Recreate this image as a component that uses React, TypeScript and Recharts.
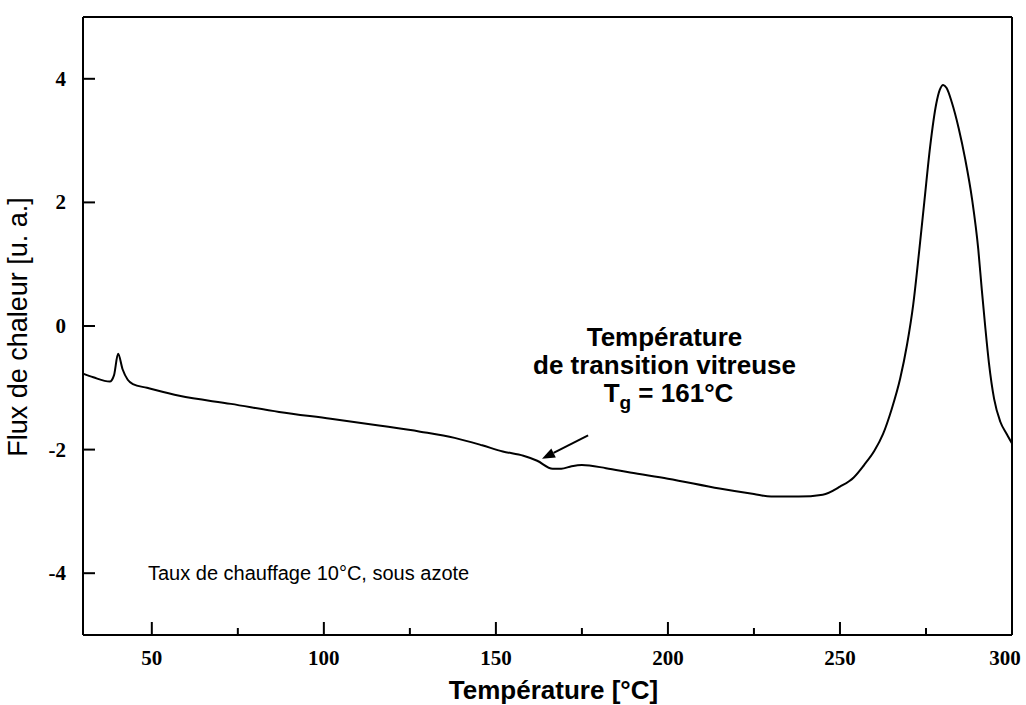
import { LineChart, Line, XAxis, YAxis, ReferenceLine, ReferenceDot } from 'recharts';

// DSC scan, heat flow vs temperature
const temps = [
  30, 33, 37.8, 39, 40.2, 41.5, 43, 44.5, 48.6, 58, 73, 87, 102, 116, 128, 138, 146, 152, 158, 162,
  166.5, 169, 172, 175, 182, 189, 200, 215, 225, 230, 238, 245, 250, 254, 257, 260, 262.5, 265,
  267.5, 269.5, 271.3, 273, 274.5, 276.2, 278, 279, 280, 281, 282.5, 284.5, 286.4, 288.4, 290.2,
  291.2, 292.2, 293.3, 294.8, 296.6, 298.5, 300,
];
const heatFlow = [
  -0.77, -0.83, -0.9, -0.8, -0.45, -0.7, -0.87, -0.94, -1.0, -1.13, -1.26, -1.39, -1.5, -1.61, -1.71,
  -1.81, -1.93, -2.03, -2.1, -2.18, -2.31, -2.31, -2.27, -2.25, -2.3, -2.37, -2.47, -2.63, -2.72,
  -2.76, -2.76, -2.73, -2.6, -2.45, -2.25, -2.02, -1.75, -1.35, -0.85, -0.3, 0.35, 1.2, 2.0, 2.9,
  3.6, 3.82, 3.9, 3.85, 3.62, 3.2, 2.7, 2.05, 1.24, 0.6, 0.0, -0.6, -1.18, -1.55, -1.75, -1.9,
];
const xTicks = [50, 75, 100, 125, 150, 175, 200, 225, 250, 275, 300];
const yTicks = [-4, -2, 0, 2, 4];

// arrow pointing at the glass transition, and anchors for the notes
const arrowFrom = { x: 176.8, y: -1.77 };
const arrowTo = { x: 163.4, y: -2.15 };
const tgNote = ['Température', 'de transition vitreuse'];
const tgNoteAt = { x: 199, y: -0.32 };
const rateNote = 'Taux de chauffage 10°C, sous azote';
const rateNoteAt = { x: 30, y: -4 };

const data = temps.map((t, i) => ({ t, flux: heatFlow[i] }));

const SERIF = '"Liberation Serif", "Times New Roman", serif';
const SANS = '"Liberation Sans", Arial, sans-serif';

function XTick({ x, y, payload }: any) {
  const major = payload.value % 50 === 0;
  // the last label would run past the right edge, nudge it in
  const lx = Math.min(x, 1005);
  return (
    <g>
      <line x1={x} x2={x} y1={y} y2={y - (major ? 13 : 7)} stroke="#000" strokeWidth={2} />
      {major && (
        <text x={lx} y={y + 30} textAnchor="middle" fontFamily={SERIF} fontWeight="bold" fontSize={21} fill="#000">
          {payload.value}
        </text>
      )}
    </g>
  );
}

function YTick({ x, y, payload }: any) {
  return (
    <g>
      <line x1={x} x2={x + 12} y1={y} y2={y} stroke="#000" strokeWidth={2} />
      <text x={x - 17} y={y + 7} textAnchor="end" fontFamily={SERIF} fontWeight="bold" fontSize={21} fill="#000">
        {payload.value}
      </text>
    </g>
  );
}

function Arrow({ x1, y1, x2, y2 }: any) {
  const a = Math.atan2(y2 - y1, x2 - x1);
  const len = 13;
  const w = 5;
  const bx = x2 - len * Math.cos(a);
  const by = y2 - len * Math.sin(a);
  const pts = [
    [x2, y2],
    [bx + w * Math.sin(a), by - w * Math.cos(a)],
    [bx - w * Math.sin(a), by + w * Math.cos(a)],
  ].map((p) => p.join(',')).join(' ');
  return (
    <g>
      <line x1={x1} y1={y1} x2={bx} y2={by} stroke="#000" strokeWidth={2} />
      <polygon points={pts} fill="#000" />
    </g>
  );
}

function TgNote({ cx, cy }: any) {
  const st = { fontFamily: SANS, fontWeight: 'bold' as const, fontSize: 26, fill: '#000' };
  return (
    <g>
      <text x={cx} y={cy} textAnchor="middle" {...st}>{tgNote[0]}</text>
      <text x={cx} y={cy + 28} textAnchor="middle" {...st}>{tgNote[1]}</text>
      <text x={cx + 4} y={cy + 56} textAnchor="middle" {...st}>
        T<tspan dy={7} fontSize={19}>g</tspan><tspan dy={-7}> = 161°C</tspan>
      </text>
    </g>
  );
}

function RateNote({ cx, cy }: any) {
  return (
    <text x={cx + 65} y={cy + 7} fontFamily={SANS} fontSize={20} fill="#000">
      {rateNote}
    </text>
  );
}

export default function App() {
  return (
    <div style={{ position: 'absolute', left: 0, top: 0, width: 1026, height: 705, background: '#fff' }}>
      <LineChart width={1026} height={705} data={data} margin={{ top: 17, right: 14, bottom: 0, left: 0 }}>
        <XAxis
          dataKey="t"
          type="number"
          domain={[30, 300]}
          ticks={xTicks}
          height={70}
          tickSize={0}
          tickMargin={0}
          tickLine={false}
          tick={<XTick />}
          axisLine={{ stroke: '#000', strokeWidth: 2 }}
          label={{
            content: ({ viewBox }: any) => (
              <text x={viewBox.x + viewBox.width / 2 + 6} y={viewBox.y + 64} textAnchor="middle"
                fontFamily={SANS} fontWeight="bold" fontSize={26} fill="#000">
                Température [°C]
              </text>
            ),
          }}
        />
        <YAxis
          type="number"
          domain={[-5, 5]}
          ticks={yTicks}
          width={83}
          tickSize={0}
          tickMargin={0}
          tickLine={false}
          tick={<YTick />}
          axisLine={{ stroke: '#000', strokeWidth: 2 }}
          label={{
            content: ({ viewBox }: any) => {
              const cx = viewBox.x + 20;
              const cy = viewBox.y + viewBox.height / 2 + 1;
              return (
                <text x={cx} y={cy} transform={`rotate(-90 ${cx} ${cy})`} textAnchor="middle" dominantBaseline="middle"
                  fontFamily={SANS} fontSize={27} fill="#000">
                  Flux de chaleur [u. a.]
                </text>
              );
            },
          }}
        />
        <ReferenceLine y={5} stroke="#000" strokeWidth={2} />
        <ReferenceLine x={300} stroke="#000" strokeWidth={2} />
        <ReferenceLine segment={[arrowFrom, arrowTo]} shape={Arrow} />
        <ReferenceDot x={tgNoteAt.x} y={tgNoteAt.y} shape={TgNote} />
        <ReferenceDot x={rateNoteAt.x} y={rateNoteAt.y} shape={RateNote} />
        <Line type="monotone" dataKey="flux" stroke="#000" strokeWidth={2} dot={false} isAnimationActive={false} />
      </LineChart>
    </div>
  );
}
